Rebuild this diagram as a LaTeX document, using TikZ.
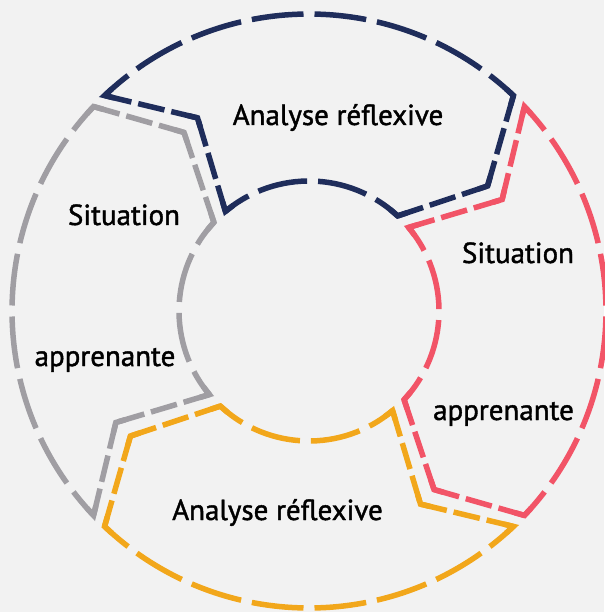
\documentclass[tikz,border=0pt]{standalone}
\usepackage{fontspec}
\setmainfont{PT Sans}
\newfontfamily\lblfont[FakeBold=1.4]{PT Sans}
\usetikzlibrary{calc}
\definecolor{bgc}{HTML}{F2F2F2}
\definecolor{navyc}{HTML}{1F2D5B}
\definecolor{redc}{HTML}{F25467}
\definecolor{orangec}{HTML}{F2A71B}
\definecolor{grayc}{HTML}{A09EA3}
\tikzset{
  segline/.style={line width=5.5pt, line join=miter, miter limit=10},
  outerdash/.style={segline, dash pattern=on 52pt off 11pt, dash phase=21pt},
  innerdash/.style={segline, dash pattern=on 50pt off 11pt, dash phase=22.5pt},
  linedash/.style={segline, dash pattern=on 27pt off 7pt},
  cornerpiece/.style={segline},
  lbl/.style={anchor=base, inner sep=0pt, font=\lblfont\fontsize{29}{34}\selectfont, text=black}
}
\newcommand\cycseg[2]{%
\begin{scope}[shift={(309pt,-311pt)}, rotate=#1, color=#2]
 \draw[outerdash] (43.5:297pt) arc[start angle=43.5, end angle=-43.5, radius=297pt];
 \draw[linedash] (-43.5:297pt) -- (-55:218pt);
 \draw[linedash] (-55:218pt) -- (-43:130pt);
 \draw[innerdash] (-43:130pt) arc[start angle=-43, end angle=40, radius=130pt];
 \draw[linedash] (40:130pt) -- (30:223pt);
 \draw[linedash] (30:223pt) -- (43.5:297pt);
 \draw[cornerpiece] ($(43.5:297pt)!10pt!(30:223pt)$) -- (43.5:297pt) -- (41.6:297pt);
 \draw[cornerpiece] (-41.6:297pt) -- (-43.5:297pt) -- ($(-43.5:297pt)!10pt!(-55:218pt)$);
 \draw[cornerpiece] ($(-55:218pt)!10pt!(-43.5:297pt)$) -- (-55:218pt) -- ($(-55:218pt)!10pt!(-43:130pt)$);
 \draw[cornerpiece] ($(-43:130pt)!10pt!(-55:218pt)$) -- (-43:130pt) -- (-38.6:130pt);
 \draw[cornerpiece] (35.6:130pt) -- (40:130pt) -- ($(40:130pt)!10pt!(30:223pt)$);
 \draw[cornerpiece] ($(30:223pt)!10pt!(40:130pt)$) -- (30:223pt) -- ($(30:223pt)!10pt!(43.5:297pt)$);
\end{scope}}
\begin{document}
\begin{tikzpicture}
\fill[bgc] (0,0) rectangle (604pt,-612pt);
\useasboundingbox (0,0) rectangle (604pt,-612pt);
\cycseg{0}{redc}
\cycseg{90}{navyc}
\cycseg{180}{grayc}
\cycseg{270}{orangec}
\node[lbl] (t1) at (338pt,-125pt) {Analyse réflexive};
\node[lbl] (t2) at (518pt,-263pt) {Situation};
\node[lbl] (t3) at (503.5pt,-420pt) {apprenante};
\node[lbl] (t4) at (124pt,-225pt) {Situation};
\node[lbl] (t5) at (105pt,-366pt) {apprenante};
\node[lbl] (t6) at (277.5pt,-520pt) {Analyse réflexive};
\end{tikzpicture}
\end{document}
